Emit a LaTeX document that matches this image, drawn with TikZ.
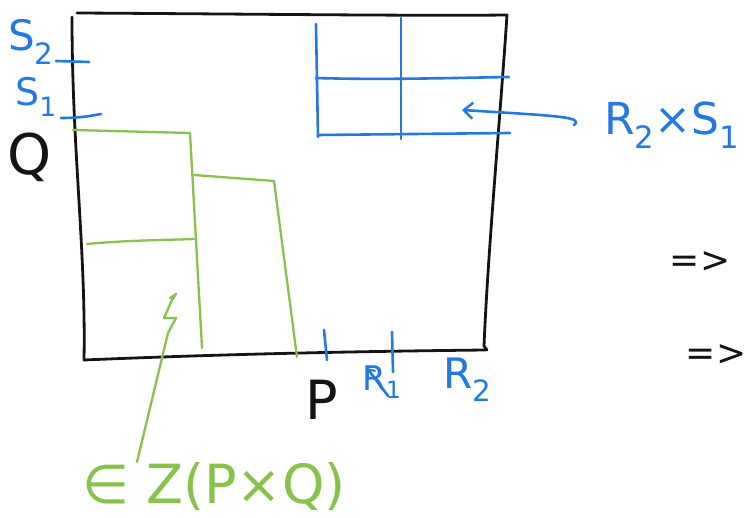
\documentclass[tikz,border=0pt]{standalone}
\usepackage{fontspec}
\setmainfont{DejaVu Sans}
\usetikzlibrary{arrows.meta}
\definecolor{inkblue}{RGB}{35,120,225}
\definecolor{inkgreen}{RGB}{135,195,75}
\definecolor{inkblack}{RGB}{20,20,20}
\tikzset{
  frameline/.style={draw=inkblack,line width=2.8pt,line cap=round,line join=round},
  blueline/.style={draw=inkblue,line width=2.6pt,line cap=round,line join=round},
  greenline/.style={draw=inkgreen,line width=2.3pt,line cap=round,line join=round},
  bluelab/.style={text=inkblue,inner sep=0pt},
  greenlab/.style={text=inkgreen,inner sep=0pt},
  blacklab/.style={text=inkblack,inner sep=0pt},
  hookarrow/.style={-{Straight Barb[length=9pt,width=16pt,line width=2.4pt]}}
}
\begin{document}
\begin{tikzpicture}[x=1pt,y=-1pt]
\useasboundingbox (0,0) rectangle (745,518);
\clip (0,0) rectangle (745,518);
% frame
\draw[frameline] (72,17) .. controls (72,150) and (86,250) .. (84,360)
  .. controls (180,356) and (300,352) .. (486,350);
\draw[frameline] (77,13) .. controls (250,14) and (420,16) .. (507,15)
  .. controls (500,120) and (488,250) .. (484,346) -- (487,350);
% green regions
\draw[greenline] (73,130) -- (190,133) -- (202,348);
\draw[greenline] (194,175) -- (274,181) -- (297,357);
\draw[greenline] (87,244) .. controls (130,240) and (170,240) .. (194,239);
% blue grid
\draw[blueline] (316,24) -- (318,137);
\draw[blueline] (401,18) -- (401,139);
\draw[blueline] (316,78) .. controls (380,80) and (450,78) .. (509,77);
\draw[blueline] (318,135) -- (510,133);
% blue ticks on Q axis
\draw[blueline] (56,61) -- (89,62);
\draw[blueline] (61,118) .. controls (80,118) and (90,116) .. (101,114);
% blue ticks on P axis
\draw[blueline] (324,330) -- (327,360);
\draw[blueline] (392,332) -- (393,372);
% labels
\node[bluelab,font=\fontsize{42}{42}\selectfont] (s2) at (31,42) {S\textsubscript{2}};
\node[bluelab,font=\fontsize{38}{38}\selectfont] (s1) at (36,97) {S\textsubscript{1}};
\node[blacklab,font=\fontsize{56}{56}\selectfont] (q) at (30,157) {Q};
\node[blacklab,font=\fontsize{54}{54}\selectfont] (p) at (322,400) {P};
\node[bluelab,font=\fontsize{34}{34}\selectfont] (r1) at (382,382) {R\textsubscript{1}};
\node[bluelab,font=\fontsize{42}{42}\selectfont] (r2) at (468,380) {R\textsubscript{2}};
\node[bluelab,font=\fontsize{44}{44}\selectfont,anchor=west] (rs) at (604,125) {R\textsubscript{2}×S\textsubscript{1}};
\node[greenlab,font=\fontsize{54}{54}\selectfont,anchor=west] (z) at (82,487) {∈ Z(P×Q)};
\node[blacklab,font=\fontsize{36}{36}\selectfont] (imp1) at (700,262) {=>};
\node[blacklab,font=\fontsize{36}{36}\selectfont] (imp2) at (716,355) {=>};
% arrows
\coordinate (rstip) at (462,110);
\draw[blueline,hookarrow] ([xshift=-30pt]rs.west) .. controls ([xshift=-20pt,yshift=8pt]rs.west) and (560,116) .. (rstip);
\coordinate (r1tip) at (367,368);
\draw[blueline,-{Straight Barb[length=6pt,width=10pt,line width=2pt]}] ([xshift=6pt,yshift=-14pt]r1.center) -- (r1tip);
\coordinate (ztip) at (176,294);
\draw[greenline] ([xshift=55pt,yshift=25pt]z.west) -- (168,333) -- (176,318) -- (164,318) -- (172,300) -- (ztip) -- (170,298);
\end{tikzpicture}
\end{document}
